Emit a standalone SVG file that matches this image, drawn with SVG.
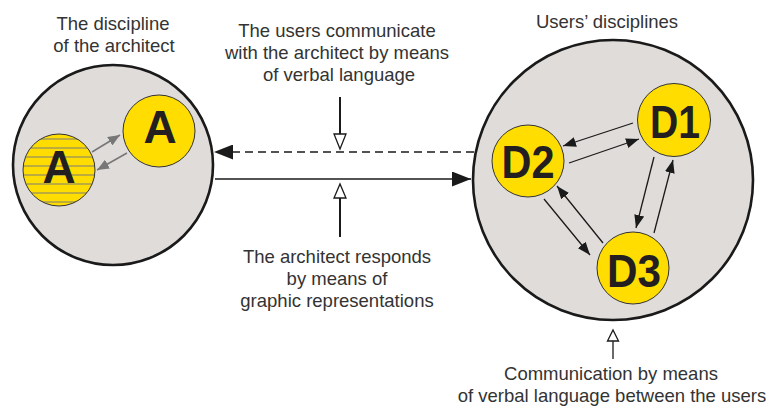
<svg xmlns="http://www.w3.org/2000/svg" width="769" height="406" viewBox="0 0 769 406">
  <style>
    .label { font-family: "Liberation Sans", Arial, sans-serif; font-size: 18.5px; fill: #333; text-anchor: middle; }
    .big { fill: #e0dcda; stroke: #1a1a1a; stroke-width: 2.6; }
    .disc { fill: #ffdd00; stroke: #333; stroke-width: 1; }
    .letter { font-family: "Liberation Sans", Arial, sans-serif; font-weight: bold; font-size: 46px; fill: #231f20; text-anchor: middle; }
    .hatch { stroke: #7a7a7a; stroke-width: 1.1; }
    .link { stroke: #1a1a1a; stroke-width: 1.3; fill: none; marker-end: url(#head); }
    .glink { stroke: #777; stroke-width: 1.6; fill: none; marker-end: url(#ghead); }
    .open { fill: #fff; stroke: #1a1a1a; stroke-width: 1.3; }
  </style>
  <defs>
    <marker id="head" markerUnits="userSpaceOnUse" markerWidth="13" markerHeight="10" refX="13" refY="5" orient="auto">
      <path d="M0,0 L13,5 L0,10 z" fill="#1a1a1a"/>
    </marker>
    <marker id="ghead" markerUnits="userSpaceOnUse" markerWidth="12" markerHeight="10" refX="12" refY="5" orient="auto">
      <path d="M0,0 L12,5 L0,10 z" fill="#777"/>
    </marker>
    <marker id="bighead" markerUnits="userSpaceOnUse" markerWidth="19" markerHeight="15" refX="19" refY="7.5" orient="auto">
      <path d="M0,0 L19,7.5 L0,15 z" fill="#1a1a1a"/>
    </marker>
    <clipPath id="hatchClip">
      <circle cx="59" cy="170" r="36"/>
    </clipPath>
  </defs>

  <!-- architect's discipline -->
  <g id="architect-discipline">
    <circle class="big" cx="113" cy="165" r="100"/>
    <text class="label" x="113" y="30">The discipline</text>
    <text class="label" x="114" y="52">of the architect</text>
  </g>

  <g id="architect-a">
    <circle class="disc" cx="159" cy="131" r="36"/>
    <text class="letter" x="160" y="143">A</text>
  </g>

  <g id="architect-a-hatched">
    <circle cx="59" cy="170" r="36" fill="#ffdd00"/>
    <g clip-path="url(#hatchClip)">
      <line class="hatch" x1="20" y1="139" x2="100" y2="139"/>
      <line class="hatch" x1="20" y1="148" x2="100" y2="148"/>
      <line class="hatch" x1="20" y1="157" x2="100" y2="157"/>
      <line class="hatch" x1="20" y1="166" x2="100" y2="166"/>
      <line class="hatch" x1="20" y1="175" x2="100" y2="175"/>
      <line class="hatch" x1="20" y1="184" x2="100" y2="184"/>
      <line class="hatch" x1="20" y1="193" x2="100" y2="193"/>
      <line class="hatch" x1="20" y1="202" x2="100" y2="202"/>
    </g>
    <circle cx="59" cy="170" r="36" fill="none" stroke="#333" stroke-width="1"/>
    <text class="letter" x="59" y="183">A</text>
  </g>

  <!-- users' disciplines -->
  <g id="users-disciplines">
    <circle class="big" cx="613" cy="180" r="140"/>
    <text class="label" x="607" y="28">Users’ disciplines</text>
  </g>

  <g id="d1">
    <circle class="disc" cx="674" cy="120" r="36.5"/>
    <text class="letter" x="675" y="138" textLength="50" lengthAdjust="spacingAndGlyphs">D1</text>
  </g>
  <g id="d2">
    <circle class="disc" cx="528" cy="161" r="36"/>
    <text class="letter" x="528" y="178" textLength="53" lengthAdjust="spacingAndGlyphs">D2</text>
  </g>
  <g id="d3">
    <circle class="disc" cx="633" cy="268" r="36"/>
    <text class="letter" x="634" y="287" textLength="54" lengthAdjust="spacingAndGlyphs">D3</text>
  </g>

  <!-- connectors -->
  <g id="connectors">
    <line class="glink" x1="92" y1="152" x2="120" y2="135"/>
    <line class="glink" x1="127" y1="153" x2="97" y2="170"/>

    <line class="link" x1="633" y1="123" x2="563" y2="146"/>
    <line class="link" x1="569" y1="163" x2="639" y2="139"/>
    <line class="link" x1="654" y1="157" x2="636" y2="228"/>
    <line class="link" x1="654" y1="233" x2="673" y2="160"/>
    <line class="link" x1="544" y1="199" x2="590" y2="255"/>
    <line class="link" x1="603" y1="243" x2="557" y2="186"/>

    <line x1="474" y1="152" x2="214" y2="152" stroke="#1a1a1a" stroke-width="1.3" stroke-dasharray="8 5" marker-end="url(#bighead)"/>
    <line x1="215" y1="179" x2="471" y2="179" stroke="#1a1a1a" stroke-width="1.3" marker-end="url(#bighead)"/>

    <line x1="340" y1="97" x2="340" y2="134" stroke="#1a1a1a" stroke-width="2"/>
    <polygon class="open" points="334,134 346,134 340,149"/>
    <line x1="340" y1="198" x2="340" y2="237" stroke="#1a1a1a" stroke-width="2"/>
    <polygon class="open" points="334,198 346,198 340,184"/>
    <line x1="613" y1="341" x2="613" y2="359" stroke="#1a1a1a" stroke-width="1.3"/>
    <polygon class="open" points="607.5,341 618.5,341 613,330"/>
  </g>

  <!-- annotations -->
  <g id="note-verbal">
    <text class="label" x="337" y="37">The users communicate</text>
    <text class="label" x="337" y="59">with the architect by means</text>
    <text class="label" x="339" y="81">of verbal language</text>
  </g>
  <g id="note-graphic">
    <text class="label" x="337" y="263">The architect responds</text>
    <text class="label" x="337" y="285">by means of</text>
    <text class="label" x="337" y="307">graphic representations</text>
  </g>
  <g id="note-users">
    <text class="label" x="611" y="380">Communication by means</text>
    <text class="label" x="612" y="402">of verbal language between the users</text>
  </g>
</svg>
